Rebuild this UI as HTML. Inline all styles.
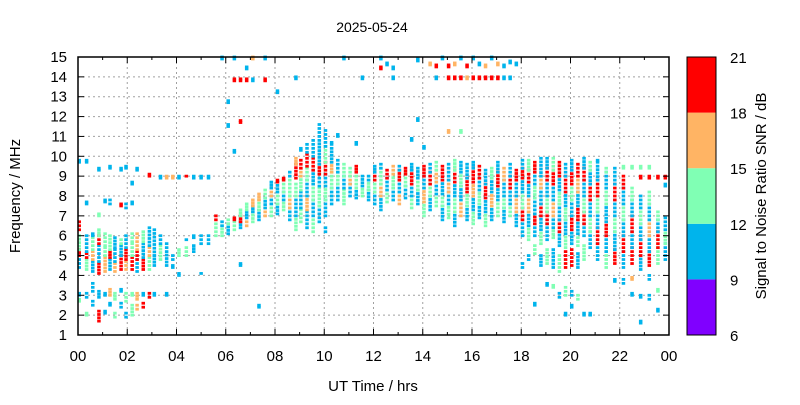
<!DOCTYPE html>
<html><head><meta charset="utf-8"><style>
body{margin:0;background:#fff;}
svg text{font-family:"Liberation Sans",sans-serif;}
</style></head><body>
<svg id="chart" width="800" height="400" viewBox="0 0 800 400" xmlns="http://www.w3.org/2000/svg">
<rect width="800" height="400" fill="#fff"/>
<g id="grid"></g>
<g id="marks"></g>
<g id="axes"></g>
<text x="372" y="32" font-size="14" text-anchor="middle">2025-05-24</text>
<text x="373" y="391" font-size="15" text-anchor="middle">UT Time / hrs</text>
<text transform="translate(20,196) rotate(-90)" font-size="15" text-anchor="middle">Frequency / MHz</text>
<text transform="translate(766,196) rotate(-90)" font-size="15" text-anchor="middle">Signal to Noise Ratio SNR / dB</text>
<g id="cbar"></g>
</svg>
<script>
const xTickLabels = ["00","02","04","06","08","10","12","14","16","18","20","22","00"];
const yTickLabels = ["1","2","3","4","5","6","7","8","9","10","11","12","13","14","15"];
const cbarTicks = [6,9,12,15,18,21];
const cbarColors = ["#8000ff","#00b4ec","#80ffb4","#ffb464","#ff0000"];
// each run: [hour, fLow MHz, fHigh MHz, SNR dB]
const morningRuns = [
[0.05,4.4,5.0,10],[0.05,5.0,5.3,19],[0.05,5.3,6.0,13],[0.05,6.3,6.7,19],[0.05,9.7,9.8,10],[0.05,3.0,3.1,10],[0.05,2.7,2.8,13],
[0.35,4.3,4.8,13],[0.35,4.9,5.1,19],[0.35,5.2,6.0,10],[0.35,7.6,7.7,10],[0.35,9.7,9.8,10],[0.35,2.9,3.1,10],[0.35,2.0,2.1,13],
[0.6,4.2,4.7,10],[0.6,4.8,5.2,16],[0.6,5.3,5.9,13],[0.6,6.0,6.1,10],[0.6,3.2,3.6,10],[0.6,2.5,2.7,10],
[0.85,4.1,4.6,19],[0.85,4.7,5.5,10],[0.85,5.6,6.0,19],[0.85,6.0,6.3,13],[0.85,2.9,3.2,10],[0.85,1.7,2.2,19],[0.85,7.0,7.1,13],[0.85,9.3,9.4,10],
[1.1,4.2,4.9,16],[1.1,5.0,5.4,13],[1.1,5.5,6.1,13],[1.1,3.0,3.1,10],[1.1,2.1,2.2,10],[1.1,7.7,7.8,10],
[1.3,4.3,4.8,10],[1.3,4.9,5.2,19],[1.3,5.3,6.0,13],[1.3,3.0,3.3,16],[1.3,2.5,2.6,10],[1.3,7.6,7.8,10],[1.3,9.4,9.5,10],
[1.5,4.2,4.6,16],[1.5,4.7,5.3,10],[1.5,5.4,5.9,10],[1.5,2.8,3.1,13],[1.5,1.9,2.1,13],
[1.75,4.3,5.0,19],[1.75,5.0,5.5,10],[1.75,5.6,5.8,13],[1.75,3.2,3.3,10],[1.75,2.4,2.6,10],[1.75,9.3,9.4,10],[1.75,7.5,7.6,19],
[1.95,4.3,4.7,16],[1.95,4.8,5.3,19],[1.95,5.4,6.0,10],[1.95,2.7,3.1,13],[1.95,1.9,2.1,10],[1.95,7.4,7.6,10],[1.95,9.4,9.5,10],
[2.2,4.3,4.9,19],[2.2,5.0,5.6,13],[2.2,5.7,6.1,13],[2.2,3.0,3.1,13],[2.2,2.0,2.5,13],[2.2,7.6,7.7,10],[2.2,8.6,8.7,10],
[2.4,4.2,4.8,10],[2.4,4.8,5.2,19],[2.4,5.3,6.1,16],[2.4,2.8,3.1,16],[2.4,2.3,2.5,16],[2.4,9.3,9.4,10],
[2.65,4.3,4.8,19],[2.65,4.9,5.6,10],[2.65,5.7,6.2,13],[2.65,3.0,3.1,10],[2.65,2.4,2.6,19],
[2.9,4.3,4.9,13],[2.9,5.0,5.4,16],[2.9,5.5,6.4,10],[2.9,2.9,3.1,19],[2.9,9.0,9.1,19],
[3.1,4.5,5.0,10],[3.1,5.0,6.3,10],[3.1,3.0,3.1,10],
[3.35,4.8,5.5,13],[3.35,5.6,6.0,10],[3.35,8.9,9.0,10],
[3.6,4.5,5.2,10],[3.6,5.4,5.6,10],[3.6,8.9,9.0,16],[3.6,3.0,3.1,10],
[3.85,4.8,5.0,10],[3.85,8.9,9.0,16],[3.85,4.4,4.5,10],
[4.1,5.0,5.3,13],[4.1,8.9,9.0,10],[4.1,4.0,4.1,10],
[4.4,5.0,5.4,13],[4.4,9.0,9.0,19],[4.4,5.8,5.8,10],
[4.7,5.2,5.5,10],[4.7,8.9,9.0,10],[4.7,5.9,6.0,10],
[5.0,5.6,6.0,10],[5.0,8.9,9.0,10],[5.0,4.1,4.1,10],
[5.3,5.6,6.0,10],[5.3,8.9,9.0,10]
];
const sunriseRuns = [
[5.6,6.0,6.6,13],[5.6,6.8,7.0,19],
[5.85,6.0,6.5,13],[5.85,6.5,6.7,10],[5.85,14.9,15.0,10],
[6.1,6.1,6.6,10],[6.1,6.6,6.8,13],[6.1,12.7,12.8,10],[6.1,11.5,11.6,10],
[6.35,6.3,6.7,13],[6.35,6.8,6.9,19],[6.35,10.2,10.3,10],[6.35,13.8,13.9,19],[6.35,14.9,15.0,10],
[6.6,6.4,6.7,10],[6.6,6.7,7.0,19],[6.6,7.0,7.3,13],[6.6,11.7,11.8,19],[6.6,13.8,13.9,19],[6.6,4.5,4.6,10],
[6.85,6.5,6.9,16],[6.85,6.9,7.2,10],[6.85,7.3,7.6,13],[6.85,13.8,13.9,19],[6.85,14.4,14.5,10],
[7.1,6.7,7.2,13],[7.1,7.2,7.5,10],[7.1,7.5,7.8,16],[7.1,13.8,13.9,10],[7.1,14.9,15.0,16],
[7.35,6.8,7.3,10],[7.35,7.3,7.8,13],[7.35,7.8,8.1,16],[7.35,2.4,2.5,10],
[7.6,7.0,7.4,16],[7.6,7.4,7.9,10],[7.6,7.9,8.3,13],[7.6,13.8,13.9,19],[7.6,14.9,15,10],
[7.85,7.0,7.6,13],[7.85,7.6,8.0,10],[7.85,8.0,8.4,16],[7.85,8.4,8.7,10],
[8.1,7.1,7.6,10],[8.1,7.6,8.2,13],[8.1,8.2,8.7,10],[8.1,8.7,8.8,19],[8.1,13.2,13.3,10],
[8.35,7.3,7.8,13],[8.35,7.8,8.2,10],[8.35,8.2,8.8,13],[8.35,8.8,8.9,19],
[8.6,6.8,7.4,10],[8.6,7.4,8.0,16],[8.6,8.0,8.8,13],[8.6,9.0,9.2,10],
[8.85,6.3,7.0,13],[8.85,7.0,7.8,10],[8.85,8.0,8.6,13],[8.85,8.9,9.6,19],[8.85,9.6,9.9,16],[8.85,13.9,14.0,10],
[9.05,6.7,7.3,13],[9.05,7.4,8.2,10],[9.05,8.3,9.0,13],[9.05,9.0,9.4,16],[9.05,9.4,9.8,19],[9.05,10.3,10.4,10],
[9.3,6.4,7.2,10],[9.3,7.3,8.0,16],[9.3,8.0,8.8,10],[9.3,8.8,9.4,13],[9.3,9.5,10.1,19],[9.3,10.2,10.6,10],
[9.55,6.2,6.8,13],[9.55,7.0,7.8,10],[9.55,7.8,8.6,13],[9.55,8.6,9.3,10],[9.55,9.3,9.9,19],[9.55,10.0,10.8,10],
[9.8,6.7,7.5,10],[9.8,7.5,8.4,13],[9.8,8.5,9.1,10],[9.8,9.1,9.6,19],[9.8,9.6,10.8,10],[9.8,11.0,11.6,10],
[10.05,7.0,7.8,10],[10.05,7.8,8.5,13],[10.05,8.5,9.1,10],[10.05,9.1,9.7,19],[10.05,9.7,10.5,13],[10.05,10.5,11.3,10],[10.05,6.2,6.4,10]
];
const dayRuns = [
[10.3,7.6,8.4,10],[10.3,8.4,9.2,13],[10.3,9.2,9.7,16],[10.3,9.7,10.4,10],[10.3,10.6,10.7,10],
[10.55,7.8,8.6,10],[10.55,8.6,9.2,13],[10.55,9.2,9.8,10],[10.55,11.0,11.1,10],
[10.8,7.6,8.3,13],[10.8,8.4,9.0,10],[10.8,9.0,9.6,13],[10.8,14.9,15.0,10],
[11.05,8.0,8.6,10],[11.05,8.6,9.0,16],[11.05,9.0,9.4,13],
[11.3,7.9,8.4,10],[11.3,8.4,9.2,13],[11.3,9.2,9.5,19],[11.3,10.6,10.7,10],
[11.55,8.0,8.5,13],[11.55,8.5,9.0,10],[11.55,13.9,14.0,10],
[11.8,7.8,8.3,10],[11.8,8.3,8.8,13],[11.8,8.8,9.0,10],
[12.05,7.6,8.2,10],[12.05,8.2,8.8,13],[12.05,8.8,9.2,19],[12.05,9.2,9.5,10],
[12.3,7.3,8.0,10],[12.3,8.0,8.6,16],[12.3,8.6,9.4,13],[12.3,9.4,9.6,10],[12.3,14.4,14.5,19],[12.3,14.9,15,10],
[12.55,7.7,8.3,13],[12.55,8.3,8.9,10],[12.55,8.9,9.3,19],[12.55,14.6,14.7,10],
[12.8,7.8,8.4,10],[12.8,8.4,9.1,13],[12.8,9.1,9.5,16],[12.8,13.9,14.0,10],[12.8,14.4,14.5,10],
[13.05,7.6,8.2,16],[13.05,8.2,8.8,10],[13.05,8.8,9.3,19],[13.05,9.3,9.5,10],
[13.3,7.9,8.5,10],[13.3,8.5,9.1,13],[13.3,9.1,9.4,19],
[13.55,7.4,8.0,13],[13.55,8.0,8.6,10],[13.55,8.6,9.3,19],[13.55,9.3,9.6,10],[13.55,10.8,10.9,10],
[13.8,7.6,8.3,10],[13.8,8.3,8.9,13],[13.8,8.9,9.4,10],[13.8,11.8,11.9,10],[13.8,14.8,14.9,10],
[14.05,7.0,7.7,13],[14.05,7.7,8.4,16],[14.05,8.4,9.0,10],[14.05,9.0,9.5,19],[14.05,10.4,10.5,10],
[14.3,7.3,8.0,10],[14.3,8.0,8.6,13],[14.3,8.6,9.2,19],[14.3,9.2,9.6,10],[14.3,14.6,14.7,16],
[14.55,7.5,8.1,13],[14.55,8.1,8.7,10],[14.55,8.7,9.3,16],[14.55,9.3,9.7,13],[14.55,13.9,14.0,10],[14.55,14.5,14.6,19],
[14.8,6.8,7.5,10],[14.8,7.5,8.1,13],[14.8,8.1,8.8,10],[14.8,8.8,9.5,19],[14.8,14.9,15,10],
[15.05,6.9,7.6,13],[15.05,7.6,8.2,10],[15.05,8.2,8.8,16],[15.05,8.8,9.6,10],[15.05,11.2,11.3,16],[15.05,13.9,14.0,19],[15.05,14.5,14.6,19],
[15.3,6.5,7.2,10],[15.3,7.2,8.0,13],[15.3,8.0,8.7,10],[15.3,8.7,9.3,19],[15.3,9.3,9.8,13],[15.3,13.9,14.0,19],[15.3,14.6,14.7,16],
[15.55,7.0,7.8,16],[15.55,7.8,8.5,10],[15.55,8.5,9.2,13],[15.55,9.2,9.7,10],[15.55,11.2,11.3,13],[15.55,13.9,14.0,19],[15.55,14.9,15,10],
[15.8,6.8,7.5,10],[15.8,7.5,8.2,13],[15.8,8.2,8.9,19],[15.8,8.9,9.6,10],[15.8,13.9,14.0,16],[15.8,14.5,14.6,19],
[16.05,6.6,7.3,13],[16.05,7.3,8.0,10],[16.05,8.0,8.7,16],[16.05,8.7,9.4,19],[16.05,9.4,9.7,10],[16.05,13.9,14.0,19],[16.05,14.9,15,10],
[16.3,6.9,7.6,10],[16.3,7.6,8.3,13],[16.3,8.3,8.9,10],[16.3,8.9,9.5,19],[16.3,13.9,14.0,19],[16.3,14.6,14.7,10],
[16.55,6.5,7.2,13],[16.55,7.2,7.9,10],[16.55,7.9,8.6,19],[16.55,8.6,9.3,10],[16.55,13.9,14.0,19],[16.55,14.5,14.6,16],
[16.8,6.8,7.5,10],[16.8,7.5,8.2,16],[16.8,8.2,8.9,10],[16.8,8.9,9.4,13],[16.8,13.9,14.0,19],[16.8,14.9,15,10],
[17.05,7.0,7.8,13],[17.05,7.8,8.5,10],[17.05,8.5,9.2,19],[17.05,9.2,9.7,10],[17.05,13.9,14.0,19],[17.05,14.6,14.7,16],
[17.3,6.7,7.4,10],[17.3,7.4,8.0,13],[17.3,8.0,8.8,10],[17.3,8.8,9.4,16],[17.3,13.9,14.0,10],[17.3,14.5,14.6,10],
[17.55,7.0,7.6,13],[17.55,7.6,8.4,10],[17.55,8.4,9.0,19],[17.55,9.0,9.6,10],[17.55,13.9,14.0,10],[17.55,14.7,14.8,10],
[17.8,6.5,7.2,10],[17.8,7.2,8.0,16],[17.8,8.0,8.8,10],[17.8,8.8,9.3,19],[17.8,14.6,14.7,10]
];
const eveningRuns = [
[18.05,6.0,6.8,10],[18.05,6.8,7.4,19],[18.05,7.4,8.2,13],[18.05,8.2,8.9,10],[18.05,8.9,9.4,19],[18.05,9.4,9.8,10],[18.05,4.4,4.6,10],
[18.3,5.8,6.5,13],[18.3,6.5,7.2,10],[18.3,7.2,8.0,16],[18.3,8.0,8.7,10],[18.3,8.7,9.3,19],[18.3,9.3,9.8,13],[18.3,4.8,5.0,10],
[18.55,6.0,6.6,10],[18.55,6.6,7.1,19],[18.55,7.1,7.9,10],[18.55,7.9,8.6,13],[18.55,8.6,9.2,10],[18.55,9.2,9.7,19],[18.55,5.1,5.5,13],[18.55,2.5,2.6,10],
[18.8,5.6,6.3,13],[18.8,6.3,7.0,10],[18.8,7.0,7.6,19],[18.8,7.6,8.4,10],[18.8,8.4,9.0,16],[18.8,9.0,9.9,10],[18.8,4.5,5.0,10],
[19.05,5.8,6.6,10],[19.05,6.6,7.2,19],[19.05,7.2,8.0,13],[19.05,8.0,8.8,10],[19.05,8.8,9.4,19],[19.05,9.4,9.9,10],[19.05,4.6,5.3,13],[19.05,3.5,3.6,10],
[19.3,5.9,6.4,13],[19.3,6.4,7.0,10],[19.3,7.0,7.8,16],[19.3,7.8,8.6,10],[19.3,8.6,9.3,19],[19.3,9.3,9.9,13],[19.3,4.4,5.3,10],[19.3,3.4,3.5,13],
[19.55,5.5,6.2,10],[19.55,6.2,6.8,19],[19.55,6.8,7.6,10],[19.55,7.6,8.3,13],[19.55,8.3,9.0,10],[19.55,9.0,9.7,19],[19.55,4.2,5.0,13],[19.55,2.9,3.1,10],
[19.8,5.4,6.1,13],[19.8,6.1,6.8,10],[19.8,6.8,7.5,13],[19.8,7.5,8.2,10],[19.8,8.2,9.0,19],[19.8,9.0,9.6,10],[19.8,4.4,5.2,19],[19.8,3.0,3.4,13],[19.8,2.0,2.1,10],
[20.05,5.6,6.3,10],[20.05,6.3,7.0,19],[20.05,7.0,7.8,10],[20.05,7.8,8.6,13],[20.05,8.6,9.3,19],[20.05,9.3,9.8,10],[20.05,4.5,5.3,19],[20.05,3.0,3.2,10],[20.05,2.4,2.5,10],
[20.3,5.5,6.1,13],[20.3,6.1,6.8,10],[20.3,6.8,7.5,19],[20.3,7.5,8.2,10],[20.3,8.2,9.0,16],[20.3,9.0,9.6,19],[20.3,4.4,5.1,10],[20.3,2.8,3.0,13],
[20.55,6.0,6.6,10],[20.55,6.6,7.2,19],[20.55,7.2,8.0,13],[20.55,8.0,8.8,10],[20.55,8.8,9.4,19],[20.55,9.4,9.9,10],[20.55,4.8,5.5,13],[20.55,2.0,2.1,10],
[20.8,5.4,6.2,10],[20.8,6.2,7.0,13],[20.8,7.0,7.8,10],[20.8,7.8,8.6,19],[20.8,8.6,9.3,10],[20.8,9.3,9.7,13],[20.8,2.0,2.1,10],
[21.1,4.8,5.6,10],[21.1,5.6,6.4,19],[21.1,6.4,7.2,10],[21.1,7.2,8.0,13],[21.1,8.0,8.8,19],[21.1,8.8,9.5,10],[21.1,9.7,9.8,10],
[21.45,4.4,5.2,13],[21.45,5.2,6.0,10],[21.45,6.0,6.7,19],[21.45,6.7,7.6,10],[21.45,7.6,8.4,13],[21.45,8.4,9.2,10],[21.45,9.2,9.4,13],
[21.8,4.6,5.3,19],[21.8,5.3,6.2,10],[21.8,6.2,7.0,13],[21.8,7.0,7.8,10],[21.8,7.8,8.6,19],[21.8,8.6,9.4,10],[21.8,3.7,3.8,10],
[22.15,4.4,5.2,10],[22.15,5.2,6.0,19],[22.15,6.0,6.8,10],[22.15,6.8,7.6,13],[22.15,7.6,8.4,10],[22.15,8.4,9.0,19],[22.15,9.4,9.5,13],[22.15,3.6,3.8,10],
[22.5,4.6,5.4,19],[22.5,5.4,6.2,10],[22.5,6.2,7.0,19],[22.5,7.0,7.8,10],[22.5,7.8,8.4,13],[22.5,9.4,9.5,13],[22.5,3.0,3.1,10],[22.5,3.8,3.9,16],
[22.85,4.3,5.0,10],[22.85,5.0,5.8,19],[22.85,5.8,6.6,10],[22.85,6.6,7.4,13],[22.85,7.4,8.0,10],[22.85,8.9,9.0,19],[22.85,9.4,9.5,13],[22.85,1.6,1.7,10],[22.85,2.9,3.0,10],
[23.2,4.5,5.2,19],[23.2,5.2,6.0,10],[23.2,6.0,6.8,16],[23.2,6.8,7.6,10],[23.2,7.6,8.2,13],[23.2,8.9,9.0,19],[23.2,9.4,9.5,13],[23.2,2.8,3.0,10],[23.2,3.8,4.0,10],
[23.55,4.6,5.4,13],[23.55,5.4,6.2,19],[23.55,6.2,6.8,10],[23.55,6.8,7.2,13],[23.55,8.9,9.0,19],[23.55,2.2,2.3,10],[23.55,3.2,3.3,13],
[23.85,4.8,5.6,10],[23.85,5.6,6.3,13],[23.85,6.3,6.9,10],[23.85,8.9,9.0,19],[23.85,8.5,8.6,10]
];

const NS="http://www.w3.org/2000/svg";
const L=78,R=669,T=57,B=335;
const X=h=>L+(h/24)*(R-L);
const Y=f=>B-(f-1)/14*(B-T);
function mk(tag,attrs,parent){const e=document.createElementNS(NS,tag);for(const k in attrs)e.setAttribute(k,attrs[k]);parent.appendChild(e);return e;}
function snrColor(s){const i=Math.min(4,Math.max(0,Math.floor((s-6)/3)));return cbarColors[i];}
const grid=document.getElementById('grid'),axes=document.getElementById('axes'),marks=document.getElementById('marks'),cbar=document.getElementById('cbar');

xTickLabels.forEach((lab,i)=>{const x=X(i*2);
 if(i>0&&i<xTickLabels.length-1){const g=mk('line',{x1:x,x2:x,y1:T,y2:B,stroke:'#a0a0a0','stroke-width':1,'stroke-dasharray':'2,3'},grid);}
 const t=mk('text',{x:x,y:B+26,'font-size':15,'text-anchor':'middle'},axes);t.textContent=lab;
 
 mk('line',{x1:x,x2:x,y1:B,y2:B-6,stroke:'#000'},axes);mk('line',{x1:x,x2:x,y1:T,y2:T+6,stroke:'#000'},axes);
 if(i<xTickLabels.length-1){const xm=X(i*2+1);mk('line',{x1:xm,x2:xm,y1:B,y2:B-3,stroke:'#000'},axes);mk('line',{x1:xm,x2:xm,y1:T,y2:T+3,stroke:'#000'},axes);}
});
yTickLabels.forEach((lab,i)=>{const y=Y(i+1);
 if(i>0&&i<yTickLabels.length-1){const g=mk('line',{x1:L,x2:R,y1:y,y2:y,stroke:'#a0a0a0','stroke-width':1,'stroke-dasharray':'2,3'},grid);}
 const t=mk('text',{x:L-11,y:y+5,'font-size':15,'text-anchor':'end'},axes);t.textContent=lab;
 
 mk('line',{x1:L,x2:L+6,y1:y,y2:y,stroke:'#000'},axes);mk('line',{x1:R,x2:R-6,y1:y,y2:y,stroke:'#000'},axes);
});
const fr=mk('rect',{x:L,y:T,width:R-L,height:B-T,fill:'none',stroke:'#000','stroke-width':1.5},axes);


// each run is drawn as a column of small square points spaced along frequency
const dotStep = 0.18;
[morningRuns,sunriseRuns,dayRuns,eveningRuns].forEach(arr=>arr.forEach(r=>{
 const x=X(r[0]);
 const n=Math.max(1,Math.round((r[2]-r[1])/dotStep)+1);
 for(let k=0;k<n;k++){
  const f=n===1?(r[1]+r[2])/2:r[1]+(r[2]-r[1])*k/(n-1);
  const e=mk('rect',{x:x-1.75,y:Y(f)-1.4,width:3.5,height:2.8,fill:snrColor(r[3])},marks);
  
  
 }
}));

const cx=687,cw=29;
const cy=v=>B-(v-6)/15*(B-T);
cbarColors.forEach((c,i)=>{const e=mk('rect',{x:cx,y:cy(6+3*(i+1)),width:cw,height:cy(6+3*i)-cy(6+3*(i+1)),fill:c},cbar);
 });
mk('rect',{x:cx,y:T,width:cw,height:B-T,fill:'none',stroke:'#000','stroke-width':1},cbar);
cbarTicks.forEach(v=>{const t=mk('text',{x:730,y:cy(v)+6,'font-size':15},cbar);t.textContent=v;
 });
</script>
</body></html>
